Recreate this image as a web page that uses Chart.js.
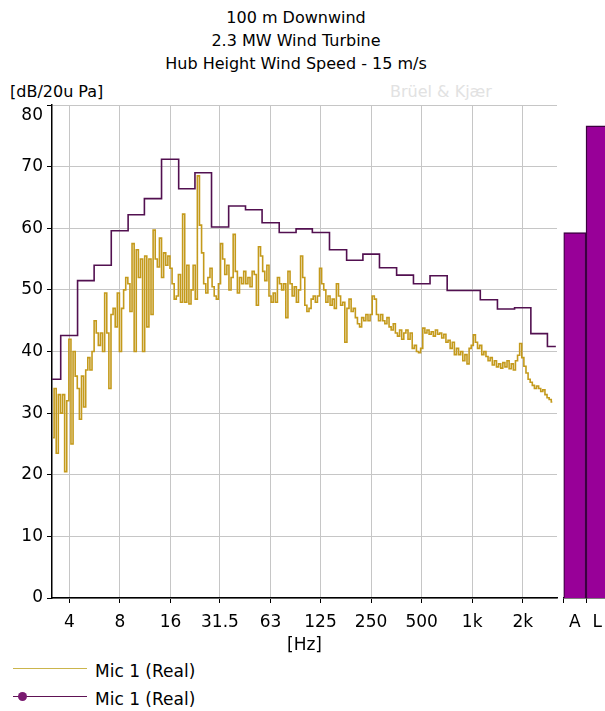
<!DOCTYPE html>
<html>
<head>
<meta charset="utf-8">
<title>100 m Downwind</title>
<script src="https://cdn.jsdelivr.net/npm/chart.js@4/dist/chart.umd.min.js"></script>
<style>
  body { margin: 0; width: 605px; height: 711px; overflow: hidden; background: #fff; position: relative; font-family: "DejaVu Sans", sans-serif; color: #000; }
  #title { position: absolute; left: 0; top: 6px; width: 592px; text-align: center; font-size: 16px; line-height: 23px; }
  #unit { position: absolute; left: 10px; top: 82px; font-size: 16px; }
  #brand { position: absolute; left: 390px; top: 82px; font-size: 16px; color: #e2e2e2; }
  #spectrum { position: absolute; left: 0; top: 0; }
  #overall { position: absolute; left: 558px; top: 0; }
  .key { position: absolute; left: 0; height: 22px; line-height: 22px; font-size: 17px; padding-left: 95px; white-space: nowrap; }
  .key .line { position: absolute; left: 13px; width: 74px; top: 8px; border-top: 1.5px solid; }
  .key .dot { position: absolute; left: 18px; top: 4px; width: 9px; height: 9px; border-radius: 50%; background: #7a1a70; }
</style>
</head>
<body>
<div id="title">100 m Downwind<br>2.3 MW Wind Turbine<br>Hub Height Wind Speed - 15 m/s</div>
<div id="unit">[dB/20u Pa]</div>
<div id="brand">Brüel &amp; Kjær</div>
<canvas id="spectrum" width="560" height="660"></canvas>
<canvas id="overall" width="53" height="660"></canvas>
<div class="key" style="top:660px"><span class="line" style="border-color:#cbb54c"></span>Mic 1 (Real)</div>
<div class="key" style="top:688px"><span class="line" style="border-color:#5e1254"></span><span class="dot"></span>Mic 1 (Real)</div>
<script>
// 1/3-octave band spectrum (purple steps)
const bandCentres = [3.15, 4, 5, 6.3, 8, 10, 12.5, 16, 20, 25, 31.5, 40, 50, 63, 80, 100, 125, 160, 200, 250, 315, 400, 500, 630, 800, 1000, 1250, 1600, 2000, 2500, 3150]
const bandLevels = [35.5, 42.6, 51.5, 54, 59.6, 62.2, 64.8, 71.2, 66.4, 69, 60.2, 63.6, 63, 60.9, 59.3, 59.9, 59.3, 56.5, 54.8, 55.8, 53.6, 52.4, 51, 52.3, 49.9, 49.9, 48.4, 46.9, 47.1, 42.9, 40.8]

// 1/24-octave spectrum starting at 3.15 Hz, one row per octave
const narrowStartHz = 3.15
const narrowPerOctave = 24
const narrowLevels = [
    26, 34, 23.5, 33, 30, 33, 20.5, 32, 42, 25, 40, 36, 34, 29, 36, 31, 37, 39, 37, 40, 45, 43, 41, 43,
    40, 49.5, 43, 34, 46, 47, 44, 49.5, 40, 47, 50, 52, 51, 46.5, 57.5, 40, 56.5, 52, 55, 40, 55.5, 44, 55, 46,
    59.7, 55, 53.7, 58.4, 52, 56, 54, 55.5, 53.5, 51, 48.5, 49, 52.5, 48, 62.3, 48, 54, 47.7, 50, 54, 48.5, 68.5, 60.5, 56,
    51, 49.5, 52, 53.5, 50.5, 49, 48.5, 51, 57.5, 55, 52.5, 54, 50, 52, 59, 53, 49.5, 52, 51, 53, 51, 52, 50.5, 53,
    52.5, 47.5, 57, 55.5, 53, 51.5, 54, 49, 48, 49.5, 48, 52, 51, 50, 51, 45.5, 53, 51, 49, 50.5, 48, 50, 55.5, 52,
    47.5, 46.5, 47, 48.5, 49, 48, 49, 53.5, 51, 50, 48, 49, 47.5, 48.5, 47, 51, 49, 47.5, 48, 41.5, 47, 48.5, 46.5, 47,
    45.5, 44.5, 44, 45.5, 45, 46, 45, 46, 49, 48.5, 46, 45, 46, 45, 44.5, 45.5, 44, 43.5, 44.5, 43, 42.5, 43.5, 42, 43,
    43.5, 42, 43, 40.5, 41, 40, 39.8, 40.5, 43.8, 43, 43.5, 42.8, 43.2, 42.5, 43.5, 42.8, 43, 42.2, 42.8, 41.5, 41.8, 40.5, 41.5, 39.5,
    40.5, 39.5, 40, 38.5, 39.5, 38, 40.5, 41, 42.7, 41.5, 40.5, 41, 39.5, 40, 39.2, 38.5, 39, 37.8, 38.5, 37.5, 38, 37.3, 38.2, 37.5,
    38.5, 37.2, 38, 37, 38.5, 39.4, 41.3, 39, 37.6, 36.5, 35.5, 35, 34.5, 34, 34.4, 34, 33.5, 33.8, 33, 32.5, 32.2, 31.8
]

// overall levels, A-weighted and linear
const overallLabels = ["A", "L"]
const overallLevels = [59.3, 76.6]

const freqTicks = [4, 8, 16, 31.5, 63, 125, 250, 500, 1000, 2000]
const freqTickLabels = ["4", "8", "16", "31.5", "63", "125", "250", "500", "1k", "2k"]

const narrowFreqs = narrowLevels.map((v, i) => narrowStartHz * Math.pow(2, (i + 0.5) / narrowPerOctave))

Chart.defaults.font.family = "DejaVu Sans"
Chart.defaults.font.size = 17
Chart.defaults.color = "#000"

const gridStyle = {
    color: "#c6c6c6",
    lineWidth: 1,
    tickColor: "#000",
    tickLength: 5
}
const axisBorder = { color: "#000", width: 1.5 }

const spectrumCtx = document.getElementById("spectrum").getContext("2d")
const spectrumChart = new Chart(spectrumCtx, {
    type: "line",
    data: {
        datasets: [
            {
                label: "Mic 1 (Real)",
                data: narrowFreqs.map((f, i) => ({ x: f, y: narrowLevels[i] })),
                borderColor: "#c49a1c",
                borderWidth: 1.6,
                pointRadius: 0,
                stepped: "middle",
                order: 1
            },
            {
                label: "Mic 1 (Real)",
                data: bandCentres.map((f, i) => ({ x: f, y: bandLevels[i] })),
                borderColor: "#521050",
                borderWidth: 1.6,
                pointRadius: 0,
                stepped: "middle",
                order: 0
            }
        ]
    },
    options: {
        responsive: false,
        animation: false,
        layout: { padding: { top: 105, right: 3, left: 0, bottom: 0 } },
        plugins: { legend: { display: false }, tooltip: { enabled: false } },
        scales: {
            x: {
                type: "logarithmic",
                min: 3.15,
                max: 3200,
                afterBuildTicks: axis => { axis.ticks = freqTicks.map(v => ({ value: v })) },
                afterFit: axis => { axis.height = 62 },
                ticks: {
                    autoSkip: false,
                    maxRotation: 0,
                    padding: 9,
                    callback: (value, index) => freqTickLabels[index]
                },
                grid: gridStyle,
                border: axisBorder,
                title: { display: true, text: "[Hz]", padding: { top: 0, bottom: 4 } }
            },
            y: {
                min: 0,
                max: 80,
                afterFit: axis => { axis.width = 52 },
                ticks: {
                    stepSize: 10,
                    padding: 4,
                    // top label sits just under the axis end
                    callback: value => value === 80 ? ["", "80"] : String(value)
                },
                grid: gridStyle,
                border: axisBorder
            }
        }
    }
})

const overallCtx = document.getElementById("overall").getContext("2d")
const overallChart = new Chart(overallCtx, {
    type: "bar",
    data: {
        labels: overallLabels,
        datasets: [{
            label: "Mic 1 (Real)",
            data: overallLevels,
            backgroundColor: "#980098",
            borderColor: "#3c0040",
            borderWidth: 1.5,
            barPercentage: 1,
            categoryPercentage: 1
        }]
    },
    options: {
        responsive: false,
        animation: false,
        layout: { padding: { top: 105, right: 0, left: 5.5, bottom: 0 } },
        plugins: { legend: { display: false }, tooltip: { enabled: false } },
        scales: {
            x: {
                afterFit: axis => { axis.height = 62 },
                ticks: { padding: 9 },
                grid: { drawOnChartArea: false, tickColor: "#000", tickLength: 5 },
                border: axisBorder
            },
            y: { display: false, min: 0, max: 80 }
        }
    }
})
</script>
</body>
</html>
